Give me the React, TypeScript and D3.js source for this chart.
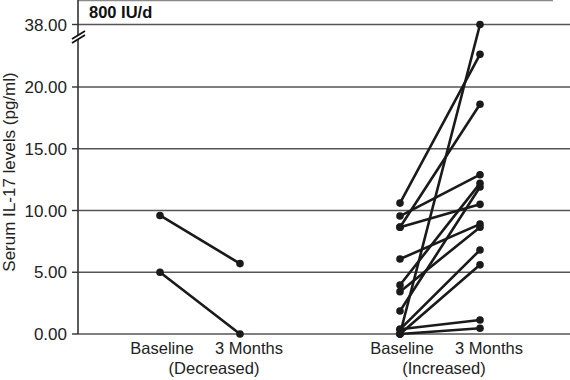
import * as d3 from 'd3'

// y axis is broken between 20 and 38
const yTicks = [0, 5, 10, 15, 20, 38]
const groups = ['Decreased', 'Increased']
const timeLabels = ['Baseline', '3 Months']
// x positions (baseline, 3 months) per group
const groupPos = [[1, 2], [4, 5]]

const decreasedBaseline = [9.6, 5.0]
const decreasedMonth3 = [5.7, 0.0]

const increasedBaseline = [0.0, 10.6, 8.65, 9.55, 8.65, 6.07, 3.97, 3.43, 1.86, 0.38, 0.0, 0.38, 0.0]
const increasedMonth3 = [38.0, 29.4, 18.6, 12.9, 10.5, 8.9, 12.2, 8.65, 11.9, 6.8, 5.6, 1.13, 0.46]

const title = '800 IU/d'
const yTitle = 'Serum IL-17 levels (pg/ml)'

const W = 570
const H = 380
const font = 'Liberation Sans, Arial, Helvetica, sans-serif'

export default function App() {
  const x = d3.scaleLinear().domain([0, 1]).range([80, 160])
  const y = d3.scaleLinear().domain([0, 20, 38]).range([334, 87, 24.5])
  const axisX = 78

  const pairs = [
    ...decreasedBaseline.map((b, i) => ({ g: 0, b, m: decreasedMonth3[i] })),
    ...increasedBaseline.map((b, i) => ({ g: 1, b, m: increasedMonth3[i] })),
  ]

  return (
    <svg width={W} height={H} style={{ position: 'absolute', left: 0, top: 0, background: '#fff' }}
      fontFamily={font}>
      {/* top frame edge */}
      <line x1={axisX} x2={553} y1={0.5} y2={0.5} stroke="#8a8a8a" strokeWidth={1.5} />

      {/* grid + ticks */}
      {yTicks.map(t => (
        <g key={t}>
          <line x1={axisX} x2={W} y1={y(t)} y2={y(t)} stroke="#555" strokeWidth={1.6} />
          <line x1={axisX - 6} x2={axisX} y1={y(t)} y2={y(t)} stroke="#333" strokeWidth={1.4} />
          <text x={axisX - 11} y={y(t)} dy="0.36em" textAnchor="end" fontSize={17} fill="#222">
            {d3.format('.2f')(t)}
          </text>
        </g>
      ))}

      {/* y axis with break */}
      <line x1={axisX} x2={axisX} y1={0} y2={y(0)} stroke="#333" strokeWidth={1.6} />
      <line x1={72} x2={85} y1={41} y2={33} stroke="#fff" strokeWidth={3} />
      <line x1={72} x2={85} y1={39} y2={31} stroke="#111" strokeWidth={1.8} />
      <line x1={72} x2={85} y1={43} y2={35} stroke="#111" strokeWidth={1.8} />

      <text x={89} y={18} fontSize={16.5} fontWeight="bold" fill="#111">{title}</text>

      <text transform={`translate(15,${(y(0) + 10) / 2}) rotate(-90)`} textAnchor="middle"
        fontSize={17} fill="#222">{yTitle}</text>

      {/* paired lines */}
      {pairs.map((p, i) => {
        const [b, m] = groupPos[p.g]
        return (
          <g key={i}>
            <line x1={x(b)} y1={y(p.b)} x2={x(m)} y2={y(p.m)} stroke="#1a1a1a" strokeWidth={2.6}
              strokeLinecap="round" />
            <circle cx={x(b)} cy={y(p.b)} r={3.8} fill="#1a1a1a" />
            <circle cx={x(m)} cy={y(p.m)} r={3.8} fill="#1a1a1a" />
          </g>
        )
      })}

      {/* x labels */}
      {groups.map((g, gi) => {
        const [b, m] = groupPos[gi]
        return (
          <g key={g} fontSize={16.5} fill="#222" textAnchor="middle">
            <text x={x(b) + 2} y={354}>{timeLabels[0]}</text>
            <text x={x(m) + 9} y={354}>{timeLabels[1]}</text>
            <text x={(x(b) + x(m)) / 2 + (gi === 0 ? 14 : 4)} y={374}>({g})</text>
          </g>
        )
      })}
    </svg>
  )
}
